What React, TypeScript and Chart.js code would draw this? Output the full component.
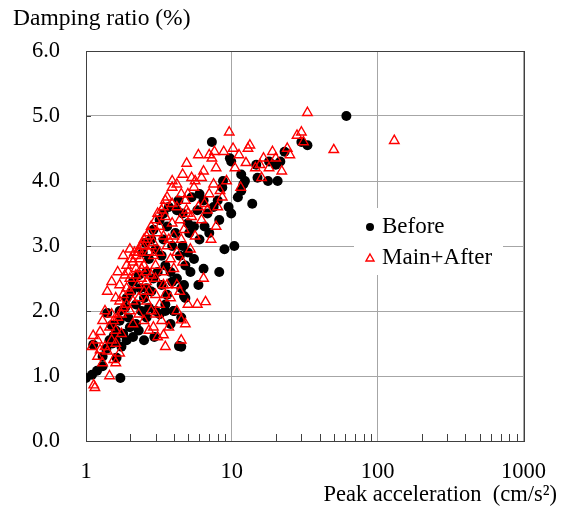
import { useEffect, useRef } from "react";
import { Chart, registerables } from "chart.js";
Chart.register(...registerables);

const FONT = "'Liberation Serif', 'Times New Roman', serif";

const xTickValues = [1, 2, 3, 4, 5, 6, 7, 8, 9, 10, 20, 30, 40, 50, 60, 70, 80, 90, 100, 200, 300, 400, 500, 600, 700, 800, 900, 1000];
const xMajorValues = [1, 10, 100, 1000];
const yTickValues = [0, 1, 2, 3, 4, 5, 6];
const legendLabels = ["Before", "Main+After"];

const beforePoints: number[][] = [
  [1.0, 0.97], [1.1, 1.02], [1.19, 1.08], [1.3, 1.15], [1.72, 0.97], [1.12, 1.48], [1.3, 1.3], [1.38, 1.42], [1.45, 1.55], [1.52, 1.5],
  [1.55, 1.62], [1.62, 1.28], [1.6, 1.7], [1.4, 1.97], [1.5, 1.78], [1.7, 1.85], [1.8, 1.65], [1.9, 1.55], [1.75, 1.45], [2.0, 1.75],
  [1.85, 2.05], [1.95, 1.9], [2.1, 1.6], [2.2, 1.8], [2.3, 1.7], [2.5, 1.55], [2.94, 1.6], [2.6, 1.9], [2.4, 2.0], [2.7, 2.05],
  [2.2, 2.1], [2.05, 2.3], [1.9, 2.2], [2.35, 2.35], [2.5, 2.2], [2.8, 2.3], [3.0, 2.0], [3.2, 1.95], [3.5, 2.1], [4.0, 2.0],
  [4.34, 1.46], [3.8, 1.8], [4.5, 1.9], [3.3, 2.4], [3.6, 2.25], [3.1, 2.6], [2.9, 2.5], [2.6, 2.6], [2.3, 2.55], [2.1, 2.45],
  [2.7, 2.8], [2.45, 2.9], [2.55, 3.05], [2.8, 3.1], [3.0, 2.95], [3.3, 2.85], [3.5, 2.7], [3.8, 2.6], [4.2, 2.5], [4.5, 2.35],
  [4.8, 2.2], [4.7, 2.4], [5.2, 2.6], [3.9, 3.0], [4.1, 3.2], [3.6, 3.3], [3.2, 3.4], [2.9, 3.25], [3.4, 3.1], [4.4, 2.85],
  [4.6, 3.0], [5.0, 2.9], [5.5, 2.8], [6.4, 2.65], [5.9, 2.4], [8.2, 2.6], [8.9, 2.95], [10.4, 3.0], [6.0, 3.1], [5.5, 3.3],
  [5.0, 3.35], [4.6, 3.5], [4.2, 3.55], [3.7, 3.6], [3.4, 3.5], [6.5, 3.3], [7.0, 3.2], [6.8, 3.5], [7.5, 3.6], [8.2, 3.4],
  [9.5, 3.6], [9.9, 3.5], [7.3, 4.6], [9.7, 4.35], [8.7, 4.0], [11.6, 3.85], [13.8, 3.65], [9.9, 4.3], [11.6, 4.1], [8.6, 3.9],
  [12.0, 3.95], [11.0, 3.75], [6.0, 3.8], [6.4, 3.7], [5.3, 3.75], [4.3, 3.7], [5.8, 3.55], [17.7, 4.0], [20.6, 4.0], [21.5, 4.3],
  [23, 4.45], [20, 4.25], [30, 4.6], [33, 4.55], [61, 5.0], [15, 4.05], [18, 4.3], [14.7, 4.25], [12.3, 4.0], [8.0, 3.7],
  [5.1, 3.2], [4.8, 2.7], [3.9, 2.45], [3.5, 2.0], [2.6, 2.35], [1.7, 2.0], [1.6, 1.55], [4.5, 1.45], [4.0, 2.0], [4.7, 2.23],
];

const mainAfterPoints: number[][] = [
  [1.15, 0.82], [1.45, 1.0], [1.2, 1.3], [1.1, 1.45], [1.12, 1.62], [1.2, 1.55], [1.3, 1.85], [1.25, 1.68], [1.35, 2.0], [1.5, 1.95],
  [1.45, 1.75], [1.55, 1.85], [1.4, 1.38], [1.6, 1.5], [1.7, 1.35], [1.55, 1.25], [1.75, 1.65], [1.65, 1.9], [1.8, 2.05], [1.4, 2.3],
  [1.6, 2.2], [1.5, 2.45], [1.7, 2.4], [1.8, 2.25], [1.9, 2.35], [1.65, 2.6], [1.85, 2.55], [2.0, 2.5], [1.9, 2.7], [2.1, 2.75],
  [2.0, 2.95], [2.2, 2.65], [2.3, 2.9], [2.2, 2.85], [2.4, 3.0], [2.35, 2.8], [2.5, 2.7], [2.1, 2.15], [2.25, 2.4], [2.4, 2.5],
  [2.6, 2.45], [2.0, 2.0], [2.3, 1.95], [2.5, 1.85], [2.1, 1.8], [2.7, 1.7], [2.9, 1.75], [3.1, 1.6], [2.6, 2.15], [2.8, 2.0],
  [3.0, 2.25], [3.2, 2.1], [3.3, 1.85], [3.7, 1.75], [4.5, 1.55], [5.8, 2.1], [6.4, 2.5], [4.8, 1.8], [3.6, 2.4], [3.4, 2.6],
  [3.0, 2.7], [2.8, 2.55], [2.7, 2.9], [2.9, 3.05], [3.1, 3.2], [2.6, 3.15], [2.5, 3.1], [2.8, 3.3], [3.0, 3.4], [3.2, 3.3],
  [3.4, 3.15], [3.6, 3.0], [3.8, 2.8], [4.0, 2.65], [4.2, 2.9], [4.5, 3.1], [3.9, 3.35], [3.5, 3.45], [3.3, 3.55], [3.6, 3.75],
  [3.9, 3.9], [4.2, 3.6], [4.4, 3.4], [4.7, 3.25], [5.0, 3.5], [5.3, 3.45], [4.8, 3.7], [4.5, 3.8], [4.9, 4.27], [5.3, 4.05],
  [5.5, 3.9], [5.9, 3.6], [6.2, 3.4], [6.5, 3.65], [6.4, 4.15], [6.2, 4.05], [7.6, 4.45], [7.3, 4.35], [7.8, 4.2], [7.5, 3.95],
  [7.0, 3.8], [8.3, 3.85], [8.6, 3.75], [9.6, 4.75], [10.2, 4.5], [10.5, 4.2], [9.2, 4.0], [11.5, 3.9], [12.5, 4.28], [12.9, 4.5],
  [13.3, 4.55], [14.5, 4.2], [15.6, 4.25], [16, 4.05], [18, 4.2], [20, 4.35], [19, 4.45], [24, 4.5], [25, 4.4], [28, 4.7],
  [30, 4.75], [31, 4.6], [33, 5.05], [50, 4.48], [130, 4.62], [22, 4.15], [16.5, 4.35], [11.2, 4.4], [8.8, 4.45], [7.0, 4.4],
  [5.9, 4.4], [4.9, 3.55], [4.0, 3.15], [3.7, 3.1], [3.2, 2.9], [2.9, 2.85], [2.4, 2.65], [2.2, 2.55], [2.0, 2.3], [1.9, 2.1],
  [1.75, 1.95], [1.6, 1.7], [1.5, 1.55], [1.35, 1.45], [1.25, 1.4], [1.3, 1.2], [1.6, 1.2], [1.7, 2.15], [2.3, 2.2], [2.6, 2.6],
  [3.0, 2.5], [3.4, 2.4], [3.8, 2.2], [4.2, 2.0], [2.8, 3.0], [2.5, 3.0], [2.3, 2.95], [2.7, 3.2], [3.1, 3.5], [3.5, 3.7],
  [3.9, 4.0], [4.2, 3.95], [4.6, 4.1], [5.6, 4.0], [5.0, 3.8], [6.8, 3.55], [8.0, 3.6], [7.8, 3.3], [7.2, 3.1], [5.6, 3.15],
  [5.2, 2.95], [4.6, 2.75], [4.2, 2.4], [3.5, 2.25], [4.4, 2.3], [5.0, 2.1], [3.0, 1.95], [2.7, 2.3], [2.5, 2.3], [1.95, 2.6],
  [1.8, 2.85], [2.05, 2.8], [2.15, 2.9], [3.9, 3.65], [3.4, 3.6], [6.6, 2.14], [4.5, 1.86], [3.4, 1.63], [3.5, 1.45], [1.13, 0.86],
];

const isMajor = (v: number) => xMajorValues.includes(v);

export default function App() {
  const ref = useRef<HTMLCanvasElement>(null);
  useEffect(() => {
    if (!ref.current) return;
    const frame = {
      id: "frame",
      beforeDatasetsDraw(chart: any) {
        const { ctx, chartArea: a, scales } = chart;
        ctx.save();
        ctx.strokeStyle = "#404040";
        ctx.lineWidth = 1;
        ctx.beginPath();
        xTickValues.forEach((v) => {
          if (isMajor(v)) return;
          const px = Math.round(scales.x.getPixelForValue(v)) + 0.5;
          ctx.moveTo(px, a.bottom);
          ctx.lineTo(px, a.bottom - 7);
        });
        yTickValues.forEach((v) => {
          const py = Math.round(scales.y.getPixelForValue(v)) + 0.5;
          ctx.moveTo(a.left, py);
          ctx.lineTo(a.left + 5, py);
        });
        ctx.stroke();
        ctx.strokeRect(Math.round(a.left) + 0.5, Math.round(a.top) + 0.5, Math.round(a.right - a.left), Math.round(a.bottom - a.top));
        ctx.restore();
      },
      afterDatasetsDraw(chart: any) {
        const { ctx } = chart;
        ctx.save();
        ctx.fillStyle = "#ffffff";
        ctx.fillRect(354, 208, 149, 67);
        ctx.font = `23px ${FONT}`;
        ctx.textBaseline = "middle";
        ctx.textAlign = "left";
        ctx.fillStyle = "#000";
        ctx.beginPath();
        ctx.arc(370, 227, 4, 0, Math.PI * 2);
        ctx.fill();
        ctx.fillText(legendLabels[0], 382, 227);
        ctx.strokeStyle = "#ff0000";
        ctx.lineWidth = 1.4;
        ctx.beginPath();
        ctx.moveTo(370, 254);
        ctx.lineTo(374, 261);
        ctx.lineTo(366, 261);
        ctx.closePath();
        ctx.stroke();
        ctx.fillText(legendLabels[1], 382, 258);
        ctx.restore();
      },
      afterDraw(chart: any) {
        const { ctx } = chart;
        ctx.save();
        ctx.fillStyle = "#000";
        ctx.textBaseline = "middle";
        ctx.textAlign = "left";
        ctx.font = `23.5px ${FONT}`;
        ctx.fillText("Damping ratio (%)", 13, 19);
        ctx.textAlign = "right";
        ctx.font = `22.5px ${FONT}`;
        ctx.fillText("Peak acceleration  (cm/s²)", 557, 495);
        ctx.restore();
      },
    };
    const chart = new Chart(ref.current, {
      type: "scatter",
      data: {
        datasets: [
          {
            label: legendLabels[1],
            data: mainAfterPoints.map(([x, y]) => ({ x, y })),
            pointStyle: "triangle",
            pointRadius: 5.5,
            borderColor: "#ff0000",
            backgroundColor: "rgba(0,0,0,0)",
            borderWidth: 1.4,
            order: 0,
          },
          {
            label: legendLabels[0],
            data: beforePoints.map(([x, y]) => ({ x, y })),
            pointStyle: "circle",
            pointRadius: 5,
            backgroundColor: "#000",
            borderColor: "#000",
            borderWidth: 0,
            order: 1,
          },
        ],
      },
      options: {
        animation: false,
        responsive: false,
        maintainAspectRatio: false,
        layout: { padding: { top: 51, right: 36, left: 0, bottom: 0 } },
        plugins: { legend: { display: false }, tooltip: { enabled: false } },
        scales: {
          x: {
            type: "logarithmic",
            min: 1,
            max: 1000,
            afterBuildTicks: (s: any) => {
              s.ticks = xTickValues.map((v) => ({ value: v }));
            },
            afterFit: (s: any) => {
              s.height = 69;
            },
            grid: {
              color: (c: any) => (c.tick && isMajor(c.tick.value) ? "#a6a6a6" : "rgba(0,0,0,0)"),
              drawTicks: false,
              lineWidth: 1,
            },
            border: { display: false },
            ticks: {
              autoSkip: false,
              maxRotation: 0,
              padding: 18,
              color: "#000",
              font: { family: FONT, size: 22.5 },
              callback: (v: any) => (isMajor(Number(v)) ? String(v) : ""),
            },
          },
          y: {
            min: 0,
            max: 6,
            afterFit: (s: any) => {
              s.width = 86;
            },
            grid: { color: "#a6a6a6", drawTicks: false, lineWidth: 1 },
            border: { display: false },
            ticks: {
              stepSize: 1,
              padding: 26,
              color: "#000",
              font: { family: FONT, size: 22.5 },
              callback: (v: any) => Number(v).toFixed(1),
            },
          },
        },
      },
      plugins: [frame],
    } as any);
    return () => chart.destroy();
  }, []);
  return (
    <div style={{ position: "absolute", left: 0, top: 0, width: 564, height: 510 }}>
      <canvas ref={ref} width={564} height={510} style={{ display: "block" }} />
    </div>
  );
}
